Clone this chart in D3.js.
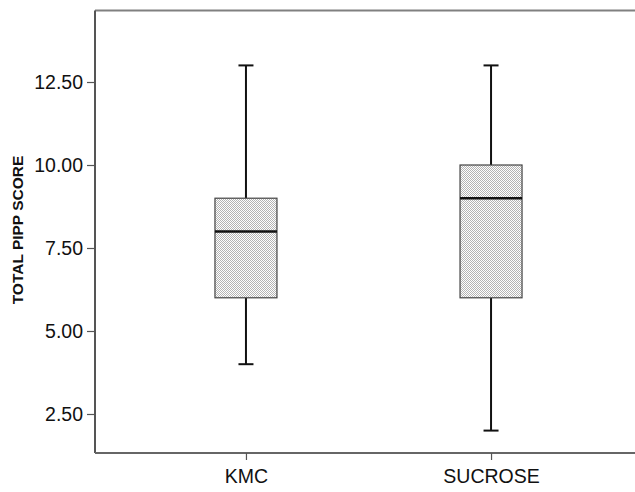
<!DOCTYPE html>
<html>
<head>
<meta charset="utf-8">
<script src="https://cdn.jsdelivr.net/npm/d3@7"></script>
<style>
  html, body { margin: 0; padding: 0; background: #fff; }
  svg { display: block; }
</style>
</head>
<body>
<svg id="chart" width="635" height="492"></svg>
<script>
const categories = ["KMC", "SUCROSE"];
const whiskerLow  = [4, 2];
const q1          = [6, 6];
const medians     = [8, 9];
const q3          = [9, 10];
const whiskerHigh = [13, 13];
const yTicks = [2.5, 5.0, 7.5, 10.0, 12.5];
const yTitle = "TOTAL PIPP SCORE";

(function () {
const data = categories.map((c, i) => ({
  cat: c, lo: whiskerLow[i], q1: q1[i], med: medians[i], q3: q3[i], hi: whiskerHigh[i]
}));

const svg = d3.select("#chart");
const pLeft = 95, pRight = 642, pTop = 10.5, pBottom = 453;
const font = "Arial, 'Liberation Sans', sans-serif";

const defs = svg.append("defs");
const pat = defs.append("pattern").attr("id", "stipple")
  .attr("patternUnits", "userSpaceOnUse").attr("width", 2).attr("height", 2);
pat.append("rect").attr("width", 2).attr("height", 2).attr("fill", "#ffffff");
pat.append("rect").attr("x", 0).attr("y", 0).attr("width", 1).attr("height", 1).attr("fill", "#b4b4b4");
pat.append("rect").attr("x", 1).attr("y", 1).attr("width", 1).attr("height", 1).attr("fill", "#b4b4b4");

const x = d3.scalePoint().domain(categories).range([pLeft, pRight]).padding(0.616);
const y = d3.scaleLinear().domain([1.325, 14.654]).range([pBottom, pTop]);

const boxW = 62, capW = 15;

// frame: top line
svg.append("line").attr("x1", pLeft).attr("x2", 635).attr("y1", pTop).attr("y2", pTop)
  .attr("stroke", "#808080").attr("stroke-width", 2);

// y axis
const yAxis = d3.axisLeft(y).tickValues(yTicks).tickFormat(d3.format(".2f")).tickSize(8).tickPadding(4);
const gy = svg.append("g").attr("transform", `translate(${pLeft},0)`).call(yAxis);
gy.select(".domain").attr("stroke", "#555").attr("stroke-width", 2)
  .attr("d", `M0,${pTop}V${pBottom}`);
gy.selectAll(".tick line").attr("stroke", "#555").attr("stroke-width", 1.2);
gy.selectAll(".tick text").attr("fill", "#111").style("font-family", font)
  .style("font-size", "19.5px");

// x axis
const xAxis = d3.axisBottom(x).tickSize(7).tickPadding(9);
const gx = svg.append("g").attr("transform", `translate(0,${pBottom})`).call(xAxis);
gx.select(".domain").attr("stroke", "#666").attr("stroke-width", 2)
  .attr("d", `M${pLeft},0H635`);
gx.selectAll(".tick line").attr("stroke", "#555").attr("stroke-width", 1.2);
gx.selectAll(".tick text").attr("fill", "#111").style("font-family", font)
  .style("font-size", "19.5px");

// y title
svg.append("text").attr("transform", `translate(23,230) rotate(-90)`)
  .attr("text-anchor", "middle")
  .style("font-family", font)
  .style("font-size", "15.5px").style("font-weight", "bold").attr("fill", "#111")
  .text(yTitle);

const g = svg.append("g").selectAll("g").data(data).join("g");

// whiskers
g.append("line").attr("x1", d => x(d.cat)).attr("x2", d => x(d.cat))
  .attr("y1", d => y(d.hi)).attr("y2", d => y(d.q3))
  .attr("stroke", "#111").attr("stroke-width", 2);
g.append("line").attr("x1", d => x(d.cat)).attr("x2", d => x(d.cat))
  .attr("y1", d => y(d.q1)).attr("y2", d => y(d.lo))
  .attr("stroke", "#111").attr("stroke-width", 2);
// caps
g.append("line").attr("x1", d => x(d.cat) - capW / 2).attr("x2", d => x(d.cat) + capW / 2)
  .attr("y1", d => y(d.hi)).attr("y2", d => y(d.hi))
  .attr("stroke", "#111").attr("stroke-width", 2);
g.append("line").attr("x1", d => x(d.cat) - capW / 2).attr("x2", d => x(d.cat) + capW / 2)
  .attr("y1", d => y(d.lo)).attr("y2", d => y(d.lo))
  .attr("stroke", "#111").attr("stroke-width", 2);
// box
g.append("rect").attr("x", d => x(d.cat) - boxW / 2).attr("width", boxW)
  .attr("y", d => y(d.q3)).attr("height", d => y(d.q1) - y(d.q3))
  .attr("fill", "url(#stipple)").attr("stroke", "#444").attr("stroke-width", 1.2);
// median
g.append("line").attr("x1", d => x(d.cat) - boxW / 2).attr("x2", d => x(d.cat) + boxW / 2)
  .attr("y1", d => y(d.med)).attr("y2", d => y(d.med))
  .attr("stroke", "#111").attr("stroke-width", 2.5);
})();
</script>
</body>
</html>
